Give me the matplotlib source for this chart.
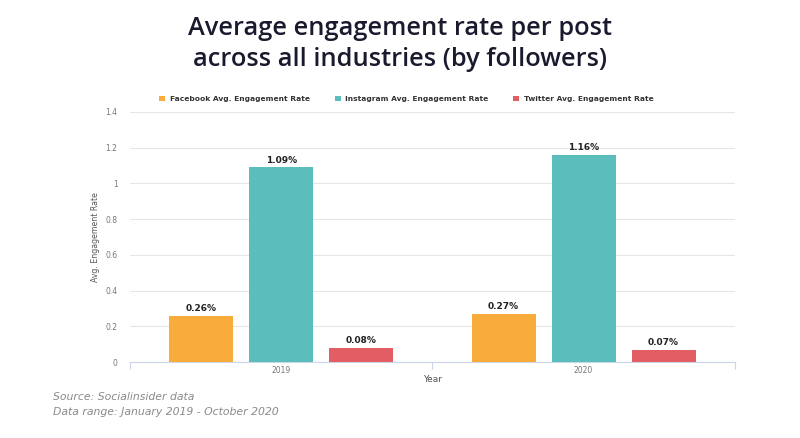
import matplotlib.pyplot as plt
import numpy as np

# dados
anos = ["2019", "2020"]
facebook = [0.26, 0.27]
instagram = [1.09, 1.16]
twitter = [0.08, 0.07]
series = ["Facebook Avg. Engagement Rate", "Instagram Avg. Engagement Rate",
          "Twitter Avg. Engagement Rate"]
cores = ["#F9AC3B", "#5BBDBC", "#E35D64"]
yticks = [0, 0.2, 0.4, 0.6, 0.8, 1, 1.2, 1.4]

fig = plt.figure(figsize=(8, 4.38), dpi=100)
ax = fig.add_axes([0.1625, 0.1735, 0.756, 0.571])

x = np.arange(len(anos))
largura = 0.2116
desloc = 0.2645
for i, (vals, cor, nome) in enumerate(zip([facebook, instagram, twitter], cores, series)):
    pos = x + (i - 1) * desloc
    ax.bar(pos, vals, width=largura, color=cor, label=nome, zorder=3)
    for p, v in zip(pos, vals):
        ax.text(p, v + 0.015, f"{v:.2f}%", ha="center", va="bottom",
                fontsize=6.5, fontweight="bold", color="#222222")

ax.set_xlim(-0.5, 1.5)
ax.set_ylim(0, 1.4)
ax.set_yticks(yticks)
ax.set_yticklabels(["0", "0.2", "0.4", "0.6", "0.8", "1", "1.2", "1.4"])
ax.yaxis.grid(True, color="#E6E6E6", linewidth=0.8, zorder=0)
ax.tick_params(axis="y", length=0, labelsize=5.5, labelcolor="#777777", pad=9)
ax.set_xticks(x)
ax.set_xticklabels(anos)
ax.set_xticks([-0.5, 0.5, 1.5], minor=True)
ax.tick_params(axis="x", which="major", length=0, labelsize=5.5, labelcolor="#777777", pad=3)
ax.tick_params(axis="x", which="minor", length=5, color="#CCD6EB", width=0.8)
for s in ["top", "right", "left"]:
    ax.spines[s].set_visible(False)
ax.spines["bottom"].set_color("#CCD6EB")
ax.spines["bottom"].set_linewidth(0.8)

ax.set_ylabel("Avg. Engagement Rate", fontsize=5.6, color="#555555", labelpad=4)
ax.set_xlabel("Year", fontsize=6.5, color="#555555", labelpad=0)

leg = ax.legend(loc="lower center", bbox_to_anchor=(0.457, 1.012), ncol=3, frameon=False,
                fontsize=5.4, handlelength=0.8, handleheight=0.8, columnspacing=3.3,
                handletextpad=0.6)
for t in leg.get_texts():
    t.set_color("#333333")
    t.set_fontweight("bold")

fig.text(0.5, 0.934, "Average engagement rate per post", ha="center", va="center",
         fontsize=18.3, color="#1a1a2e", family="Open Sans", fontweight="semibold")
fig.text(0.5, 0.864, "across all industries (by followers)", ha="center", va="center",
         fontsize=18.3, color="#1a1a2e", family="Open Sans", fontweight="semibold")

fig.text(0.066, 0.093, "Source: Socialinsider data", fontsize=7.8, style="italic",
         color="#8a8a8a", va="center")
fig.text(0.066, 0.06, "Data range: January 2019 - October 2020", fontsize=7.8,
         style="italic", color="#8a8a8a", va="center")

fig.savefig("out.png", dpi=100)
